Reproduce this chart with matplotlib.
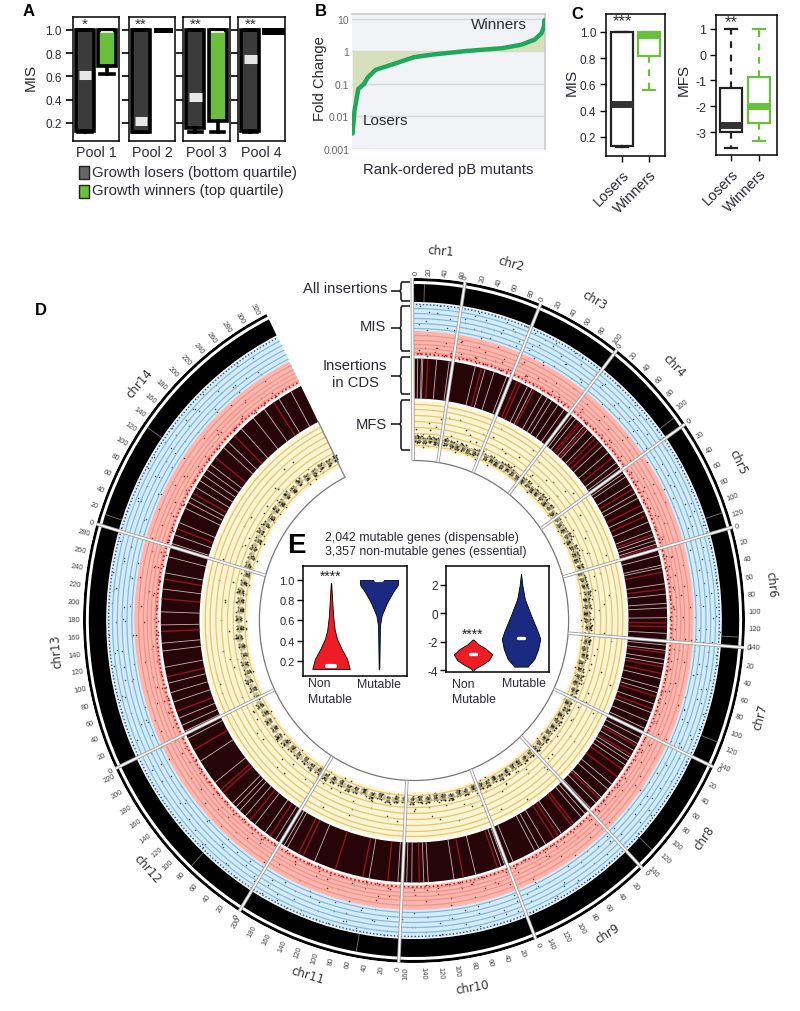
import numpy as np
import matplotlib
matplotlib.use("Agg")
import matplotlib.pyplot as plt
from matplotlib.path import Path
from matplotlib.patches import PathPatch, Rectangle

plt.rcParams["font.family"] = ["Liberation Sans", "DejaVu Sans"]
plt.rcParams["axes.linewidth"] = 1.1
plt.rcParams["axes.unicode_minus"] = False

W, H = 800, 1012
TXT = "#2a2a35"
GREEN = "#6abf3c"

# panel A: q1, median, q3, low whisker, high whisker
pools = ["Pool 1", "Pool 2", "Pool 3", "Pool 4"]
pool_stars = ["*", "**", "**", "**"]
pool_losers = [(0.135, 0.61, 1.0, 0.125, 1.0), (0.125, 0.22, 1.0, 0.12, 1.0),
               (0.16, 0.42, 1.0, 0.12, 1.0), (0.135, 0.75, 1.0, 0.125, 1.0)]
pool_winners = [(0.69, 0.985, 1.0, 0.62, 1.0), (0.998, 1.0, 1.0, 0.998, 1.0),
                (0.22, 0.985, 1.0, 0.12, 1.0), (0.985, 1.0, 1.0, 0.98, 1.0)]
mis_ticks = [0.2, 0.4, 0.6, 0.8, 1.0]

# panel B
rank_frac = [0.0, 0.004, 0.01, 0.03, 0.06, 0.08, 0.12, 0.18, 0.25, 0.32, 0.42,
             0.6, 0.78, 0.88, 0.95, 0.985, 0.998, 1.0]
fold_change = [0.003, 0.006, 0.015, 0.07, 0.1, 0.16, 0.27, 0.35, 0.48, 0.66, 0.8,
               1.03, 1.25, 1.6, 2.3, 3.6, 6.0, 9.0]

# panel C
c_mis_losers = (0.13, 0.45, 1.0, 0.12, 1.0)
c_mis_winners = (0.815, 0.975, 1.0, 0.56, 1.0)
c_mfs_losers = (-3.0, -2.72, -1.3, -3.6, 1.0)
c_mfs_winners = (-2.65, -2.0, -0.87, -3.35, 1.0)

# panel E violins: value, half width
nm_mis_val = [0.12, 0.22, 0.32, 0.42, 0.5, 0.64, 0.8, 0.97]
nm_mis_wid = [0.39, 0.335, 0.22, 0.125, 0.08, 0.045, 0.025, 0.004]
mu_mis_val = [0.12, 0.55, 0.65, 0.78, 0.88, 0.95, 1.0]
mu_mis_wid = [0.006, 0.02, 0.055, 0.17, 0.29, 0.39, 0.4]
nm_mfs_val = [-4.1, -3.9, -3.6, -3.3, -2.9, -2.5, -2.2, -1.85]
nm_mfs_wid = [0.0, 0.04, 0.2, 0.33, 0.40, 0.27, 0.12, 0.01]
mu_mfs_val = [-3.76, -3.2, -2.5, -1.8, -1.3, -0.15, 1.0, 1.95, 2.8]
mu_mfs_wid = [0.14, 0.28, 0.36, 0.40, 0.35, 0.21, 0.08, 0.03, 0.0]

# circular plot, sizes in tick units
chr_names = ["chr%d" % i for i in range(1, 15)]
chr_sizes = [64, 95, 107, 120, 134, 142, 145, 147, 154, 169, 204, 227, 293, 329]

# white and red streaks of the CDS ring, genome position in tick units
cds_white = [3, 8, 14, 16, 38, 58, 100, 116, 131, 152, 161, 188, 196, 214, 224, 232,
             244, 256, 272, 279, 296, 304, 316, 338, 352, 372, 380, 392, 398, 412, 428,
             436, 458, 476, 490, 500, 506, 512, 530, 545, 549, 574, 590, 604, 611, 626,
             650, 668, 676, 690, 697, 720, 734, 742, 760, 774, 788, 800, 816, 826, 838,
             850, 856, 864, 900, 910, 926, 938, 950, 962, 970, 1010, 1040, 1052, 1060,
             1098, 1112, 1118, 1160, 1195, 1236, 1243, 1262, 1270, 1284, 1330, 1420,
             1468, 1474, 1490, 1510, 1530, 1550, 1562, 1570, 1578, 1620, 1660, 1700,
             1712, 1722, 1734, 1760, 1775, 1790, 1815, 1840, 1852, 1880, 1900, 1935,
             1960, 1985, 2006, 2020, 2040, 2064, 2074, 2082, 2100, 2112, 2122, 2132,
             2142, 2175, 2186, 2215, 2240, 2262, 2290, 2312]
cds_red = [24, 110, 170, 176, 200, 286, 290, 300, 322, 330, 362, 420, 448, 466, 496, 515,
           556, 582, 634, 640, 680, 702, 712, 748, 768, 830, 846, 872, 886, 930, 985, 990,
           1016, 1024, 1124, 1180, 1250, 1300, 1340, 1385, 1440, 1448, 1500, 1540, 1600,
           1606, 1680, 1745, 1800, 1870, 1920, 1950, 2030, 2090, 2155, 2200, 2280]
black_streaks = [1, 15, 372, 500, 650, 778, 930, 1330, 1560, 2015, 2131]

# MFS dense band
band_pos = [2, 12, 25, 38, 50, 61, 74, 88, 101, 115, 128, 142, 155, 171, 185, 199, 213,
            228, 242, 256, 271, 286, 300, 314, 329, 343, 358, 372, 388, 403, 418, 433,
            447, 462, 478, 492, 507, 522, 537, 553, 568, 583, 598, 614, 629, 645, 660,
            676, 692, 708, 724, 740, 756, 772, 788, 804, 820, 836, 852, 868, 884, 900,
            916, 932, 948, 964, 981, 998, 1015, 1032, 1049, 1066, 1083, 1100, 1118,
            1136, 1154, 1172, 1190, 1208, 1226, 1244, 1262, 1280, 1299, 1318, 1337,
            1356, 1375, 1394, 1413, 1432, 1451, 1470, 1490, 1510, 1530, 1550, 1570,
            1590, 1610, 1630, 1650, 1670, 1690, 1710, 1730, 1750, 1770, 1790, 1810,
            1830, 1850, 1870, 1890, 1910, 1930, 1950, 1970, 1990, 2010, 2030, 2050,
            2070, 2090, 2110, 2130, 2150, 2170, 2190, 2210, 2230, 2250, 2270, 2290,
            2310, 2328]
band_val = [-2.2, -2.4, -2.6, -2.3, -2.5, -2.7, -2.4, -2.5, -2.8, -2.6, -2.9, -2.7, -2.5,
            -2.8, -2.6, -2.9, -2.7, -2.5, -2.8, -3.0, -2.7, -2.6, -2.9, -2.7, -2.5, -2.8,
            -2.6, -2.9, -2.7, -3.0, -2.8, -2.6, -2.9, -2.5, -2.7, -2.8, -2.6, -2.9, -2.7,
            -2.6, -2.4, -2.7, -2.6, -2.9, -2.7, -2.5, -2.8, -2.6, -2.9, -2.7, -3.0, -2.8,
            -2.6, -2.9, -2.7, -2.5, -2.8, -2.6, -2.9, -2.7, -2.8, -3.0, -2.7, -2.9, -2.6,
            -2.8, -2.7, -2.9, -3.0, -2.8, -2.6, -2.9, -2.7, -2.8, -3.0, -2.7, -2.9, -2.6,
            -2.8, -3.0, -2.7, -2.9, -2.6, -2.8, -2.7, -2.5, -2.8, -2.6, -2.9, -2.7, -2.5,
            -2.8, -2.6, -2.4, -2.7, -2.5, -2.8, -2.6, -2.7, -2.5, -2.3, -2.6, -2.4, -2.7,
            -2.5, -2.8, -2.6, -2.4, -2.7, -2.5, -2.8, -2.6, -2.3, -2.6, -2.4, -2.7, -2.5,
            -2.3, -2.6, -2.8, -2.5, -2.7, -2.4, -2.6, -2.3, -2.5, -2.7, -2.4, -2.6, -2.3,
            -2.5, -2.2, -2.4, -2.6, -2.3, -2.5, -2.4]

# sparse dots of the rings: genome position, value (0 to 1 of ring height)
dot_pos = [7, 19, 33, 47, 58, 71, 84, 96, 109, 123, 137, 149, 166, 178, 193, 207, 221,
           236, 249, 263, 277, 293, 307, 324, 338, 351, 367, 381, 396, 411, 426, 441,
           457, 471, 486, 503, 518, 533, 549, 563, 579, 594, 609, 624, 641, 656, 671,
           687, 703, 719, 735, 751, 767, 783, 799, 815, 831, 847, 863, 879, 895, 911,
           927, 943, 959, 976, 993, 1010, 1027, 1044, 1061, 1078, 1095, 1113, 1131,
           1149, 1167, 1185, 1203, 1221, 1239, 1257, 1275, 1294, 1313, 1332, 1351,
           1370, 1389, 1408, 1427, 1446, 1465, 1485, 1505, 1525, 1545, 1565, 1585,
           1605, 1625, 1645, 1665, 1685, 1705, 1725, 1745, 1765, 1785, 1805, 1825,
           1845, 1865, 1885, 1905, 1925, 1945, 1965, 1985, 2005, 2025, 2045, 2065,
           2085, 2105, 2125, 2145, 2165, 2185, 2205, 2225, 2245, 2265, 2285, 2305, 2325]
dot_a = [0.82, 0.35, 0.66, 0.91, 0.14, 0.58, 0.77, 0.29, 0.95, 0.43, 0.71, 0.18, 0.86, 0.52,
         0.07, 0.63, 0.38, 0.89, 0.24, 0.75, 0.47, 0.93, 0.11, 0.68, 0.32, 0.84, 0.56, 0.21,
         0.79, 0.41, 0.97, 0.27, 0.61, 0.09, 0.73, 0.49, 0.88, 0.16, 0.54, 0.36, 0.92, 0.67,
         0.23, 0.81, 0.44, 0.12, 0.59, 0.96, 0.31, 0.72, 0.48, 0.85, 0.19, 0.64, 0.39, 0.9,
         0.26, 0.76, 0.53, 0.08, 0.69, 0.34, 0.87, 0.46, 0.15, 0.62, 0.94, 0.28, 0.74, 0.51,
         0.83, 0.2, 0.57, 0.37, 0.98, 0.65, 0.13, 0.78, 0.42, 0.89, 0.25, 0.6, 0.33, 0.8,
         0.5, 0.1, 0.7, 0.45, 0.93, 0.22, 0.55, 0.86, 0.3, 0.67, 0.17, 0.77, 0.4, 0.91, 0.06,
         0.58, 0.35, 0.82, 0.24, 0.71, 0.47, 0.95, 0.14, 0.63, 0.88, 0.29, 0.52, 0.76, 0.11,
         0.66, 0.38, 0.84, 0.2, 0.59, 0.43, 0.97, 0.27, 0.73, 0.16, 0.54, 0.9, 0.32, 0.68,
         0.49, 0.79, 0.09, 0.61, 0.36, 0.85, 0.23]
dot_b = [0.12, 0.31, 0.06, 0.48, 0.19, 0.72, 0.09, 0.27, 0.55, 0.15, 0.38, 0.04, 0.62, 0.22,
         0.11, 0.44, 0.07, 0.29, 0.81, 0.17, 0.35, 0.05, 0.51, 0.13, 0.24, 0.67, 0.08, 0.41,
         0.18, 0.03, 0.33, 0.59, 0.1, 0.26, 0.46, 0.14, 0.76, 0.06, 0.21, 0.37, 0.09, 0.53,
         0.16, 0.28, 0.04, 0.64, 0.12, 0.42, 0.2, 0.07, 0.34, 0.86, 0.11, 0.25, 0.5, 0.05,
         0.18, 0.39, 0.08, 0.69, 0.15, 0.3, 0.03, 0.23, 0.57, 0.1, 0.43, 0.06, 0.19, 0.36,
         0.13, 0.78, 0.04, 0.27, 0.49, 0.09, 0.17, 0.32, 0.61, 0.07, 0.22, 0.4, 0.12, 0.05,
         0.54, 0.16, 0.29, 0.08, 0.71, 0.2, 0.03, 0.35, 0.11, 0.45, 0.06, 0.24, 0.66, 0.14,
         0.31, 0.09, 0.52, 0.18, 0.04, 0.38, 0.1, 0.26, 0.83, 0.07, 0.21, 0.47, 0.13, 0.33,
         0.05, 0.58, 0.17, 0.28, 0.08, 0.41, 0.12, 0.74, 0.03, 0.23, 0.37, 0.1, 0.55, 0.15,
         0.06, 0.3, 0.44, 0.09, 0.19, 0.63, 0.05, 0.25]
dot_c = [0.41, 0.28, 0.55, 0.2, 0.67, 0.12, 0.36, 0.73, 0.25, 0.48, 0.09, 0.6, 0.31, 0.84,
         0.17, 0.44, 0.22, 0.52, 0.07, 0.38, 0.69, 0.15, 0.29, 0.58, 0.1, 0.46, 0.77, 0.19,
         0.34, 0.63, 0.05, 0.27, 0.5, 0.14, 0.4, 0.8, 0.23, 0.56, 0.11, 0.32, 0.66, 0.18,
         0.43, 0.08, 0.26, 0.53, 0.71, 0.13, 0.37, 0.21, 0.6, 0.06, 0.3, 0.47, 0.16, 0.75,
         0.24, 0.42, 0.1, 0.57, 0.33, 0.04, 0.2, 0.49, 0.65, 0.12, 0.35, 0.27, 0.88, 0.15,
         0.45, 0.08, 0.3, 0.54, 0.19, 0.39, 0.7, 0.11, 0.25, 0.51, 0.06, 0.36, 0.17, 0.62,
         0.28, 0.09, 0.43, 0.22, 0.58, 0.13, 0.34, 0.78, 0.05, 0.26, 0.48, 0.16, 0.4, 0.68,
         0.1, 0.31, 0.2, 0.55, 0.07, 0.37, 0.14, 0.46, 0.24, 0.82, 0.12, 0.33, 0.6, 0.18,
         0.41, 0.03, 0.27, 0.52, 0.15, 0.72, 0.09, 0.35, 0.21, 0.44, 0.11, 0.59, 0.29, 0.06,
         0.38, 0.17, 0.5, 0.23, 0.64, 0.08, 0.32, 0.13]

blue_lines = [292, 297, 302, 307, 312]
pink_lines = [268, 272, 276, 280, 285]
yellow_lines = [175, 181, 187, 193, 199, 205, 211, 216]

fig = plt.figure(figsize=(W / 100, H / 100), dpi=100)


def px_axes(x0, y0, x1, y1):
    return fig.add_axes([x0 / W, 1 - y1 / H, (x1 - x0) / W, (y1 - y0) / H])


def stat(row):
    return {"q1": row[0], "med": row[1], "q3": row[2], "whislo": row[3], "whishi": row[4]}


def box(ax, row, pos, width, edge, face, med, lw, med_lw, ls="-", cap=0.3, med_shrink=0.0):
    r = ax.bxp([stat(row)], positions=[pos], widths=[width], patch_artist=True,
               showfliers=False, manage_ticks=False, capwidths=[cap],
               boxprops=dict(facecolor=face, edgecolor=edge, linewidth=lw),
               whiskerprops=dict(color=edge, linewidth=lw, linestyle=ls),
               capprops=dict(color=edge, linewidth=lw),
               medianprops=dict(color=med, linewidth=med_lw, solid_capstyle="butt"))
    if med_shrink:
        r["medians"][0].set_xdata([pos - width / 2 + med_shrink, pos + width / 2 - med_shrink])
    return r


# panel A
pool_x = [(73, 119), (129, 175), (183, 230), (238, 285)]
for i, name in enumerate(pools):
    ax = px_axes(pool_x[i][0], 17.5, pool_x[i][1], 142)
    ax.set_xlim(0.455, 2.545)
    ax.set_ylim(0.045, 1.115)
    box(ax, pool_losers[i], 1, 0.78, "black", "#3b3b3b", "#e6e6e6", 2.6, 6.5, cap=0.6, med_shrink=0.1)
    if pool_winners[i][2] - pool_winners[i][0] < 0.05:
        # collapsed box, just a thick bar at the top
        box(ax, pool_winners[i], 2, 0.8, "black", "black", "black", 3.6, 3.6, cap=0.6)
    else:
        box(ax, pool_winners[i], 2, 0.78, "black", GREEN, "#e6e6e6", 2.6, 1.5, cap=0.6, med_shrink=0.1)
    ax.set_xticks([])
    ax.set_yticks(mis_ticks)
    ax.tick_params(axis="y", length=5, width=1.2, pad=3, labelsize=8.5, labelcolor=TXT,
                   labelleft=i == 0)
    ax.text(1, 1.05, pool_stars[i], ha="center", va="center", fontsize=11, color="#333333")
    ax.text(0.5, -0.085, name, transform=ax.transAxes, ha="center", va="center",
            fontsize=10.3, color=TXT)

# panel B
ax = px_axes(352, 15, 545, 150)
ax.set_facecolor("#f1f3f7")
ax.set_yscale("log")
ax.set_xlim(-0.003, 1.003)
ax.set_ylim(0.001, 14)
ax.fill_between(rank_frac, fold_change, 1, color="#d6e0ba", lw=0, zorder=1)
ax.plot(rank_frac, fold_change, color="#1fa85a", lw=3.2, zorder=3, solid_capstyle="round")
ax.set_yticks([0.001, 0.01, 0.1, 1, 10], ["0.001", "0.01", "0.1", "1", "10"])
ax.minorticks_off()
ax.set_xticks([])
ax.grid(axis="y", color="#d6d8de", lw=1)
ax.set_axisbelow(True)
ax.tick_params(axis="y", length=0, pad=2, labelsize=7.5, labelcolor="#666666")
for s in ["left", "bottom"]:
    ax.spines[s].set_visible(False)
for s in ["top", "right"]:
    ax.spines[s].set_color("#c4c6cc")

# panel C
ax = px_axes(606, 15, 665, 157)
ax.set_xlim(0.407, 2.593)
ax.set_ylim(0.055, 1.137)
box(ax, c_mis_losers, 1, 0.8, "#222222", "white", "#333333", 1.6, 5, cap=0.45)
box(ax, c_mis_winners, 2, 0.8, GREEN, "white", GREEN, 1.6, 5, ls=(0, (3, 3)), cap=0.45)
ax.set_xticks([1, 2], ["Losers", "Winners"], rotation=45, ha="right", rotation_mode="anchor")
ax.set_yticks(mis_ticks)
ax.tick_params(length=4, width=1, labelsize=8.5, labelcolor=TXT, pad=3)
ax.tick_params(axis="x", labelsize=10.5, pad=4)
ax.text(1, 1.085, "***", ha="center", va="center", fontsize=12, color="#333333")

ax = px_axes(716, 16, 777, 156)
ax.set_xlim(0.464, 2.643)
ax.set_ylim(-3.89, 1.54)
box(ax, c_mfs_losers, 1, 0.82, "#222222", "white", "#333333", 1.6, 5, ls=(0, (3, 3)), cap=0.45)
box(ax, c_mfs_winners, 2, 0.82, GREEN, "white", GREEN, 1.6, 5, ls=(0, (3, 3)), cap=0.45)
ax.set_xticks([1, 2], ["Losers", "Winners"], rotation=45, ha="right", rotation_mode="anchor")
ax.set_yticks([-3, -2, -1, 0, 1])
ax.tick_params(length=4, width=1, labelsize=9, labelcolor=TXT, pad=3)
ax.tick_params(axis="x", labelsize=10.5, pad=4)
ax.text(1, 1.28, "**", ha="center", va="center", fontsize=12, color="#333333")

# circular plot
pol = fig.add_axes([83 / W, 1 - 964 / H, 662 / W, 685 / H], projection="polar")
pol.set_theta_zero_location("N")
pol.set_theta_direction(-1)
pol.set_aspect("auto")
pol.set_ylim(0, 342.5)
pol.set_axis_off()

genome = sum(chr_sizes)
span = np.radians(333.8)
offset = np.radians(-0.3)


def to_theta(pos):
    return offset + np.asarray(pos, dtype=float) / genome * span


starts = np.cumsum([0] + chr_sizes[:-1])
arc = to_theta(np.linspace(0, genome, 900))


def ring(r0, r1, color):
    pol.bar(to_theta(0), r1 - r0, width=span, bottom=r0, align="edge", color=color, lw=0)


ring(339.5, 342.5, "black")
ring(318.5, 336.5, "black")
ring(289.5, 317.5, "#d4ecfa")
ring(264.5, 289.5, "#fbb6b0")
ring(222, 262, "#260407")
ring(172, 219.5, "#fdf5d2")

for r in blue_lines:
    pol.plot(arc, np.full(arc.size, r), color="#85b9db", lw=0.9)
for r in pink_lines:
    pol.plot(arc, np.full(arc.size, r), color="#f09486", lw=0.9)
for r in yellow_lines:
    pol.plot(arc, np.full(arc.size, r), color="#e2c674", lw=0.9)

pol.plot(arc, np.full(arc.size, 316), color="#2f4a8c", lw=1, ls=(0, (1, 1.5)))
pol.plot(arc, np.full(arc.size, 266.5), color="#a82a3a", lw=1.2, ls=(0, (1, 1.5)))

pol.vlines(to_theta(cds_white), 222, 262, color="#e4d0d0", lw=0.6, alpha=0.85)
pol.vlines(to_theta(cds_red), 222, 262, color="#8e1520", lw=1.0)
pol.vlines(to_theta(black_streaks), 318.5, 336.5, color="#777777", lw=0.6)

n = min(len(dot_pos), len(dot_a), len(dot_b), len(dot_c))
dots_p = to_theta(dot_pos[:n])
dots_a = np.array(dot_a[:n])
dots_b = np.array(dot_b[:n])
dots_c = np.array(dot_c[:n])
pol.scatter(dots_p, 289.5 + dots_a * 28, s=1.2, color="#3a4a70", lw=0)
pol.scatter(dots_p + 0.004, 289.5 + dots_b[::-1] * 28, s=1.2, color="#3a4a70", lw=0)
pol.scatter(dots_p + 0.009, 289.5 + (1 - dots_b) * 28, s=1.2, color="#3a4a70", lw=0)
pol.scatter(dots_p, 264.5 + dots_b * 25, s=1.4, color="#8a2030", lw=0)
pol.scatter(dots_p + 0.005, 264.5 + dots_a[::-1] * 25, s=1.2, color="#8a2030", lw=0)
pol.scatter(dots_p + 0.010, 264.5 + dots_b[::-1] * 14, s=1.4, color="#8a2030", lw=0)
pol.scatter(dots_p + 0.003, 264.5 + dots_c * 8, s=1.4, color="#8a2030", lw=0)
pol.scatter(dots_p, 172 + dots_c * 47, s=1.4, color="#333322", lw=0)
pol.scatter(dots_p + 0.006, 172 + dots_b * 47, s=1.4, color="#333322", lw=0)
pol.scatter(dots_p + 0.011, 172 + dots_b[::-1] * 30, s=1.4, color="#333322", lw=0)

m = min(len(band_pos), len(band_val))
band_th = to_theta(band_pos[:m])
mfs_r = 172 + (np.array(band_val[:m]) + 4) / 8 * 47.5
pol.plot(band_th, mfs_r, color="#a8a284", lw=4, alpha=0.6, ls=(0, (0.5, 0.35)))
# dense stipple, the typed band repeated with small shifts
shift_t = [0.0, 0.003, -0.003, 0.005, -0.005, 0.0015, -0.0015]
shift_r = [0.0, 1.6, -1.6, -2.8, 2.8, -0.8, 0.8]
for dt, dr in zip(shift_t, shift_r):
    pol.scatter(band_th + dt, mfs_r + dr, s=2.2, color="#1c1c14", lw=0)
    pol.scatter(band_th + 2 * dt + 0.0045, mfs_r[::-1] * 0.04 + mfs_r * 0.96 - dr, s=2.0,
                color="#3a3826", lw=0)

pol.plot(arc, np.full(arc.size, 160), color="#777777", lw=0.9)

for i, name in enumerate(chr_names):
    th = to_theta(starts[i])
    pol.plot([th, th], [160, 342.5], color="#a0a0a0", lw=2.5, solid_capstyle="butt")
    pol.plot([th, th], [160.5, 342.5], color="white", lw=1.2, solid_capstyle="butt")
    for t in range(0, chr_sizes[i], 20):
        a = to_theta(starts[i] + t)
        d = np.degrees(a) % 360
        if d <= 180:
            pol.text(a, 346, str(t), rotation=90 - d, rotation_mode="anchor", ha="left",
                     va="center", fontsize=5.4, color="#444444")
        else:
            pol.text(a, 346, str(t), rotation=270 - d, rotation_mode="anchor", ha="right",
                     va="center", fontsize=5.4, color="#444444")
    mid = to_theta(starts[i] + chr_sizes[i] / 2)
    d = np.degrees(mid) % 360
    rot = 180 - d if 93 < d < 265 else -d
    pol.text(mid, 371, name, rotation=rot, rotation_mode="anchor", ha="center", va="center",
             fontsize=8.5, color="#333333", family="DejaVu Sans")
end = to_theta(genome)
pol.plot([end, end], [160, 222], color="#8a8a8a", lw=1)

# panel E
ax = px_axes(303, 567, 407, 677)
ax.set_xlim(0.417, 2.583)
ax.set_ylim(0.051, 1.139)
ax.fill_betweenx(nm_mis_val, 1 - np.array(nm_mis_wid), 1 + np.array(nm_mis_wid),
                 color="#ee1c25", ec="black", lw=0.6)
ax.fill_betweenx(mu_mis_val, 2 - np.array(mu_mis_wid), 2 + np.array(mu_mis_wid),
                 color="#1b2a80", ec="black", lw=0.6)
ax.plot([0.92, 1.08], [0.15, 0.15], color="white", lw=3, solid_capstyle="round")
ax.plot([1.94, 2.06], [1.0, 1.0], color="white", lw=3, solid_capstyle="round")
ax.set_xticks([])
ax.set_yticks(mis_ticks)
ax.tick_params(axis="y", length=4, width=1, labelsize=8, labelcolor=TXT, pad=2)
ax.text(1, 1.04, "****", ha="center", va="center", fontsize=10, color="#222222")

ax = px_axes(446, 567, 549, 673)
ax.set_xlim(0.4375, 2.583)
ax.set_ylim(-4.14, 3.34)
ax.fill_betweenx(nm_mfs_val, 1 - np.array(nm_mfs_wid), 1 + np.array(nm_mfs_wid),
                 color="#ee1c25", ec="black", lw=0.6)
ax.fill_betweenx(mu_mfs_val, 2 - np.array(mu_mfs_wid), 2 + np.array(mu_mfs_wid),
                 color="#1b2a80", ec="black", lw=0.6)
ax.plot([0.93, 1.07], [-2.85, -2.85], color="white", lw=2.4, solid_capstyle="round")
ax.plot([1.93, 2.07], [-1.75, -1.75], color="white", lw=2.4, solid_capstyle="round")
ax.set_xticks([])
ax.set_yticks([-4, -2, 0, 2])
ax.tick_params(axis="y", length=4, width=1, labelsize=8.5, labelcolor=TXT, pad=2)
ax.text(1, -1.45, "****", ha="center", va="center", fontsize=10, color="#222222")

# overlay in pixels for labels, legend and braces
top = fig.add_axes([0, 0, 1, 1], facecolor="none")
top.set_xlim(0, W)
top.set_ylim(H, 0)
top.set_axis_off()


def label(x, y, s, size=10, ha="center", rot=0, weight="normal", color=TXT, family=None):
    top.text(x, y, s, fontsize=size, ha=ha, va="center", rotation=rot, fontweight=weight,
             color=color, family=family or ["Liberation Sans", "DejaVu Sans"])


label(29, 11, "A", 12, weight="bold", color="black")
label(321, 11, "B", 12, weight="bold", color="black")
label(577, 14, "C", 12, weight="bold", color="black")
label(41, 310, "D", 12, weight="bold", color="black")
label(296, 546, "E", 20, weight="bold", color="black")

label(31, 77, "MIS", 11, rot=90)
top.add_patch(Rectangle((79, 167), 10, 13, fc="#666666", ec="#222222", lw=1))
top.add_patch(Rectangle((79, 186), 10, 13, fc=GREEN, ec="#222222", lw=1))
label(92, 173, "Growth losers (bottom quartile)", 10.7, ha="left")
label(92, 191, "Growth winners (top quartile)", 10.7, ha="left")

label(320, 79, "Fold Change", 10.6, rot=90)
label(499, 25, "Winners", 11)
label(385, 121, "Losers", 11)
label(448, 170, "Rank-ordered pB mutants", 10.7)
label(572, 82, "MIS", 11, rot=90)
label(684, 80, "MFS", 11, rot=90)

label(387, 289, "All insertions", 10.6, ha="right")
label(386, 327, "MIS", 10.6, ha="right")
label(355, 366, "Insertions", 10.6)
label(355, 383, "in CDS", 10.6)
label(387, 425, "MFS", 10.6, ha="right")


def brace(y0, y1, tip):
    verts = [(410, y0), (402, y0), (401, y0 + 2), (401, tip - 2), (400, tip), (391, tip),
             (400, tip), (401, tip + 2), (401, y1 - 2), (402, y1), (410, y1)]
    codes = [Path.MOVETO, Path.LINETO, Path.LINETO, Path.LINETO, Path.LINETO, Path.LINETO,
             Path.MOVETO, Path.LINETO, Path.LINETO, Path.LINETO, Path.LINETO]
    top.add_patch(PathPatch(Path(verts, codes), fc="none", ec="#222222", lw=1.2))


brace(283, 302, 292)
brace(307, 352, 329)
brace(358, 395, 377)
brace(401, 451, 425)

label(422, 538, "2,042 mutable genes (dispensable)", 8.9)
label(426, 552, "3,357 non-mutable genes (essential)", 8.9)
label(308, 684, "Non", 8.8, ha="left")
label(308, 700, "Mutable", 8.8, ha="left")
label(357, 685, "Mutable", 8.8, ha="left")
label(452, 685, "Non", 8.8, ha="left")
label(452, 700, "Mutable", 8.8, ha="left")
label(502, 684, "Mutable", 8.8, ha="left")

fig.savefig("out.png", dpi=100)
